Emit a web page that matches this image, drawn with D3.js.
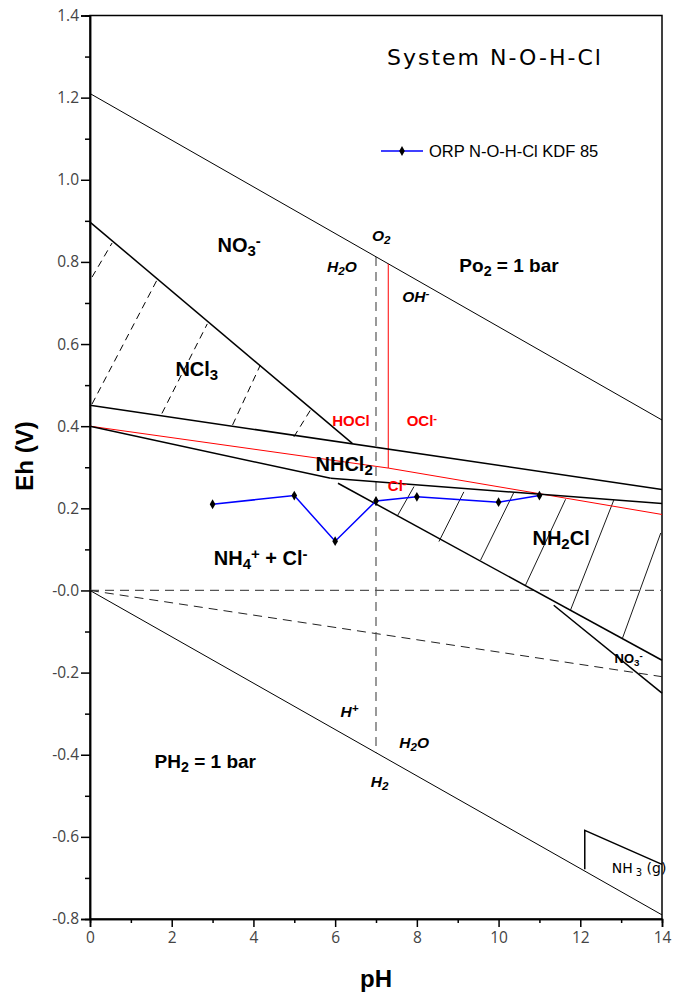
<!DOCTYPE html>
<html>
<head>
<meta charset="utf-8">
<script src="https://cdn.jsdelivr.net/npm/d3@7"></script>
<style>
  body { margin: 0; background: #fff; }
  svg { display: block; }
</style>
</head>
<body>
<div id="chart"></div>
<script>
// --- measured ORP series ---
const orpPH = [3, 5, 6, 7, 8, 10, 11];
const orpEh = [0.21, 0.231, 0.12, 0.218, 0.228, 0.215, 0.231];

// --- boundary lines [pH, Eh] ---
const waterO2 = [[0, 1.21], [14, 0.415]];
const waterH2 = [[0, 0], [14, -0.79]];
const no3Ncl3 = [[0, 0.897], [6.42, 0.358]];
const ncl3Nhcl2 = [[0, 0.451], [14, 0.246]];
const nhcl2Nh4 = [[0, 0.40], [5.89, 0.273]];
const nhcl2Nh2cl = [[5.89, 0.273], [14, 0.212]];
const nh2clNh4 = [[6.07, 0.261], [14, -0.17]];
const no3Wedge = [[11.35, -0.036], [14, -0.25]];
const nh3Box = [[12.11, -0.679], [12.11, -0.584], [14, -0.667]];
const hoclCl = [[0, 0.40], [7.3, 0.298], [14, 0.185]];
const hoclOcl = [[7.3, 0.795], [7.3, 0.298]];
const neutralLine = [[7, 0.812], [7, -0.395]];
const zeroLine = [[0, 0], [14, 0]];
const dashedSlope = [[0, 0], [14, -0.21]];

// hatching
const ncl3Hatch = [
  [[0.05, 0.763], [0.54, 0.846]],
  [[0.05, 0.454], [1.64, 0.756]],
  [[1.76, 0.431], [2.87, 0.649]],
  [[3.49, 0.403], [4.17, 0.549]],
  [[4.99, 0.374], [5.40, 0.44]],
];
const nh2clHatch = [
  [[7.52, 0.181], [7.93, 0.253]],
  [[8.54, 0.119], [9.15, 0.240]],
  [[9.56, 0.074], [10.37, 0.238]],
  [[10.66, 0.013], [11.64, 0.222]],
  [[11.76, -0.048], [12.82, 0.22]],
  [[13.03, -0.117], [13.97, 0.14]],
];

// --- ticks ---
const xTicks = [0, 2, 4, 6, 8, 10, 12, 14];
const xMinor = [1, 3, 5, 7, 9, 11, 13];
const yTicks = [-0.8, -0.6, -0.4, -0.2, 0, 0.2, 0.4, 0.6, 0.8, 1.0, 1.2, 1.4];
const yMinor = [-0.7, -0.5, -0.3, -0.1, 0.1, 0.3, 0.5, 0.7, 0.9, 1.1, 1.3];

// --- labels: pos [pH, Eh], parts [text, 'sub'|'sup'|''] ---
const regionLabels = [
  { pos: [3.12, 0.825], parts: [['NO', ''], ['3', 'sub'], ['-', 'sup']], size: 20 },
  { pos: [2.09, 0.523], parts: [['NCl', ''], ['3', 'sub']], size: 20 },
  { pos: [5.52, 0.292], parts: [['NHCl', ''], ['2', 'sub']], size: 20 },
  { pos: [3.03, 0.0625], parts: [['NH', ''], ['4', 'sub'], ['+', 'sup'], [' + Cl', ''], ['-', 'sup']], size: 20 },
  { pos: [10.83, 0.111], parts: [['NH', ''], ['2', 'sub'], ['Cl', '']], size: 20 },
  { pos: [9.04, 0.776], parts: [['Po', ''], ['2', 'sub'], [' = 1 bar', '']], size: 19 },
  { pos: [1.58, -0.432], parts: [['PH', ''], ['2', 'sub'], [' = 1 bar', '']], size: 19 },
  { pos: [12.84, -0.176], parts: [['NO', ''], ['3', 'sub'], ['-', 'sup']], size: 13 },
];
const redLabels = [
  { pos: [5.93, 0.40], parts: [['HOCl', '']] },
  { pos: [7.75, 0.40], parts: [['OCl', ''], ['-', 'sup']] },
  { pos: [7.29, 0.241], parts: [['Cl', ''], ['-', 'sup']] },
];
const italicLabels = [
  { pos: [6.9, 0.85], parts: [['O', ''], ['2', 'sub']] },
  { pos: [5.8, 0.776], parts: [['H', ''], ['2', 'sub'], ['O', '']] },
  { pos: [7.64, 0.703], parts: [['OH', ''], ['-', 'sup']] },
  { pos: [6.13, -0.309], parts: [['H', ''], ['+', 'sup']] },
  { pos: [7.57, -0.383], parts: [['H', ''], ['2', 'sub'], ['O', '']] },
  { pos: [6.87, -0.478], parts: [['H', ''], ['2', 'sub']] },
];

const width = 677, height = 994;
const margin = { top: 15.5, right: 15, bottom: 75, left: 90 };

const svg = d3.select('#chart').append('svg')
  .attr('width', width)
  .attr('height', height);

const x = d3.scaleLinear().domain([0, 14]).range([margin.left, width - margin.right]);
const y = d3.scaleLinear().domain([-0.8, 1.4]).range([height - margin.bottom, margin.top]);

const line = d3.line().x(d => x(d[0])).y(d => y(d[1]));

// frame
svg.append('rect')
  .attr('x', x(0)).attr('y', y(1.4))
  .attr('width', x(14) - x(0)).attr('height', y(-0.8) - y(1.4))
  .attr('fill', 'none').attr('stroke', '#000').attr('stroke-width', 1.5);

// axes
const fmtY = d => (Math.abs(d) < 1e-9 ? '-0.0' : d.toFixed(1));
svg.append('g')
  .attr('transform', `translate(${x(0)},0)`)
  .call(d3.axisLeft(y).tickValues(yTicks).tickFormat(fmtY).tickSize(9).tickPadding(2));
svg.append('g')
  .attr('transform', `translate(${x(0)},0)`)
  .call(d3.axisLeft(y).tickValues(yMinor).tickFormat('').tickSize(5));
svg.append('g')
  .attr('transform', `translate(0,${y(-0.8)})`)
  .call(d3.axisBottom(x).tickValues(xTicks).tickSize(8).tickPadding(5));
svg.append('g')
  .attr('transform', `translate(0,${y(-0.8)})`)
  .call(d3.axisBottom(x).tickValues(xMinor).tickFormat('').tickSize(4));

svg.selectAll('.domain').attr('stroke', '#000').attr('stroke-width', 1.5);
svg.selectAll('.tick line').attr('stroke', '#000').attr('stroke-width', 1.5);
svg.selectAll('.tick text')
  .attr('font-family', '"Open Sans", sans-serif')
  .attr('font-size', 15.5)
  .attr('fill', '#444');

// axis titles
svg.append('text')
  .attr('x', (x(0) + x(14)) / 2).attr('y', 987)
  .attr('text-anchor', 'middle')
  .attr('font-family', '"Liberation Sans", Arial, sans-serif')
  .attr('font-weight', 'bold').attr('font-size', 24)
  .text('pH');
svg.append('text')
  .attr('transform', `translate(33,456) rotate(-90)`)
  .attr('text-anchor', 'middle')
  .attr('font-family', '"Liberation Sans", Arial, sans-serif')
  .attr('font-weight', 'bold').attr('font-size', 24)
  .text('Eh (V)');

// --- lines ---
const plot = svg.append('g');

function draw(pts, opts) {
  plot.append('path')
    .datum(pts)
    .attr('d', line)
    .attr('fill', 'none')
    .attr('stroke', opts.color || '#000')
    .attr('stroke-width', opts.w || 1)
    .attr('stroke-dasharray', opts.dash || null);
}

draw(zeroLine, { color: '#555', w: 1.2, dash: '9,6' });
draw(dashedSlope, { color: '#222', w: 1, dash: '9,6' });
draw(neutralLine, { color: '#555', w: 1.2, dash: '9,6' });

draw(waterO2, { w: 1 });
draw(waterH2, { w: 1 });

ncl3Hatch.forEach(h => draw(h, { w: 1, dash: '7,5' }));
nh2clHatch.forEach(h => draw(h, { w: 0.9 }));

draw(hoclCl, { color: '#ff0000', w: 1 });
draw(hoclOcl, { color: '#ff0000', w: 1 });

draw(no3Ncl3, { w: 1.5 });
draw(ncl3Nhcl2, { w: 1.5 });
draw(nhcl2Nh4, { w: 1.5 });
draw(nhcl2Nh2cl, { w: 1.5 });
draw(nh2clNh4, { w: 1.5 });
draw(no3Wedge, { w: 1.5 });
draw(nh3Box, { w: 1.5 });

// ORP series
const orp = orpPH.map((p, i) => [p, orpEh[i]]);
draw(orp, { color: '#0000ff', w: 1.5 });
const diamond = d3.symbol().type(d3.symbolDiamond).size(28);
plot.selectAll('.orp-pt')
  .data(orp)
  .join('path')
  .attr('class', 'orp-pt')
  .attr('transform', d => `translate(${x(d[0])},${y(d[1])})`)
  .attr('d', diamond)
  .attr('fill', '#000');

// --- text labels ---
function addLabel(lbl, style) {
  const t = svg.append('text')
    .attr('x', x(lbl.pos[0])).attr('y', y(lbl.pos[1]))
    .attr('font-family', '"Liberation Sans", Arial, sans-serif')
    .attr('font-weight', 'bold')
    .attr('font-size', style.size)
    .attr('fill', style.color || '#000');
  if (style.italic) t.attr('font-style', 'italic');
  lbl.parts.forEach(([txt, kind]) => {
    const s = t.append('tspan').text(txt);
    if (kind === 'sub') s.attr('baseline-shift', '-25%').attr('font-size', style.size * 0.75);
    if (kind === 'sup') s.attr('baseline-shift', '40%').attr('font-size', style.size * 0.75);
  });
}

regionLabels.forEach(l => addLabel(l, { size: l.size }));
redLabels.forEach(l => addLabel(l, { size: 15, color: '#ff0000' }));
italicLabels.forEach(l => addLabel(l, { size: 15.5, italic: true }));

// NH3 (g) label (regular)
const nh3 = svg.append('text')
  .attr('x', x(12.77)).attr('y', y(-0.687))
  .attr('font-family', '"DejaVu Sans", sans-serif')
  .attr('font-size', 14)
  .attr('fill', '#000');
nh3.append('tspan').text('NH');
nh3.append('tspan').text('3').attr('dx', 3).attr('font-size', 10).attr('baseline-shift', '-25%');
nh3.append('tspan').text(' (g)');

// title
svg.append('text')
  .attr('x', 387).attr('y', 65)
  .attr('font-family', '"DejaVu Sans", sans-serif')
  .attr('font-size', 22)
  .attr('letter-spacing', 2)
  .text('System N-O-H-Cl');

// legend
const legend = svg.append('g');
legend.append('line')
  .attr('x1', 381).attr('x2', 423).attr('y1', 151).attr('y2', 151)
  .attr('stroke', '#0000ff').attr('stroke-width', 1.5);
legend.append('path')
  .attr('transform', 'translate(402,151)')
  .attr('d', diamond).attr('fill', '#000');
legend.append('text')
  .attr('x', 429).attr('y', 157)
  .attr('font-family', '"Liberation Sans", Arial, sans-serif')
  .attr('font-size', 16.5)
  .text('ORP N-O-H-Cl KDF 85');
</script>
</body>
</html>
